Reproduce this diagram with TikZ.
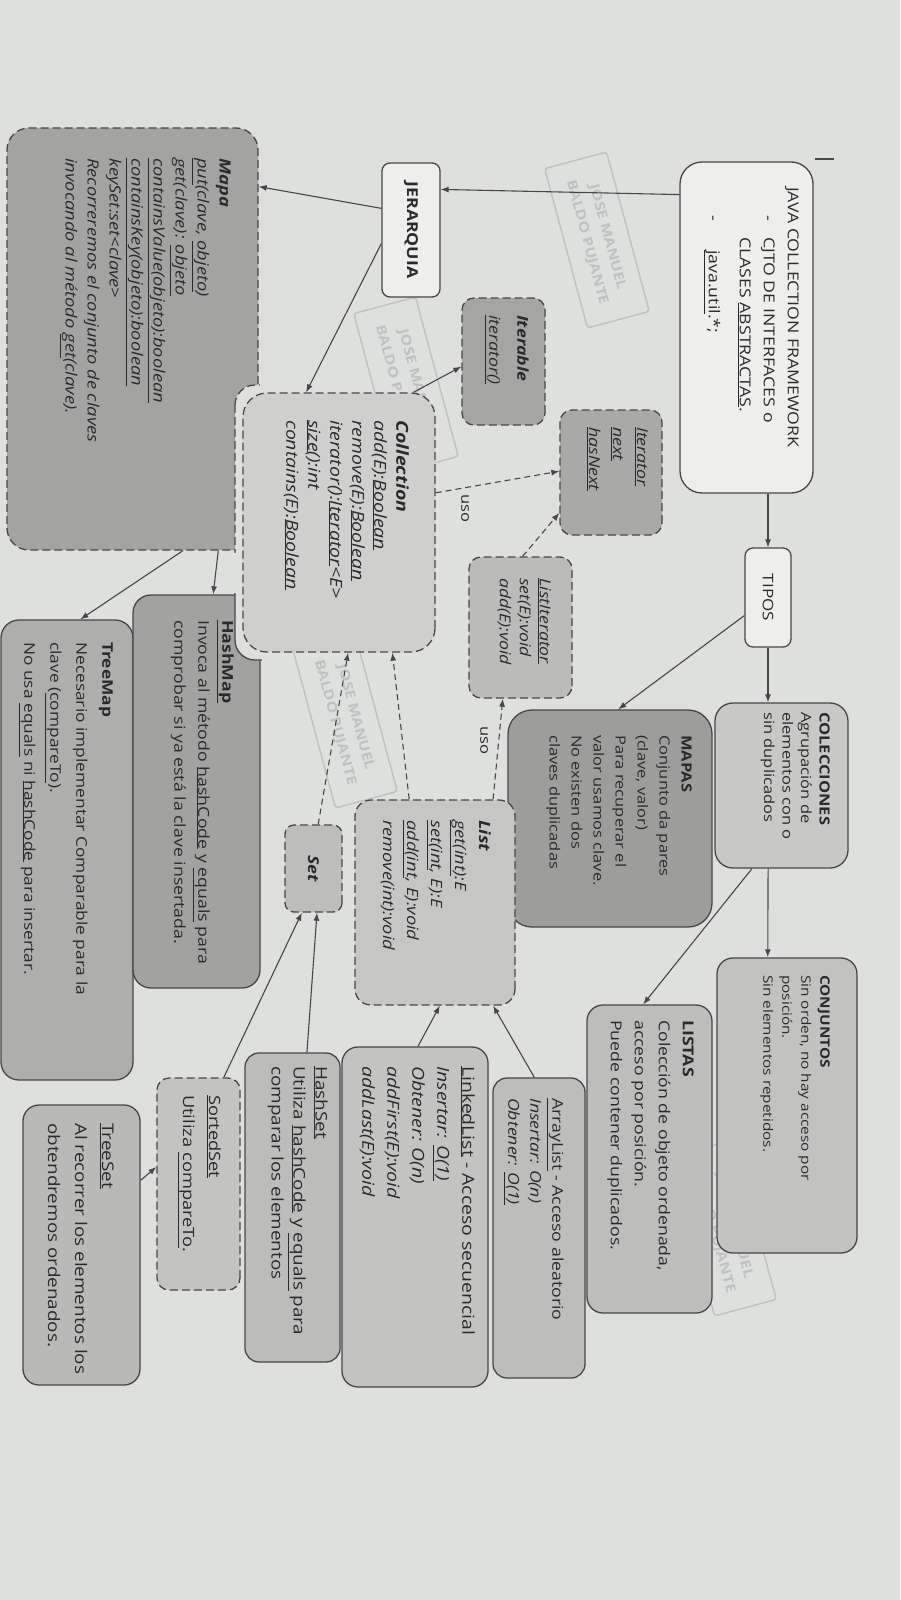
\documentclass[tikz,border=0pt]{standalone}
\usepackage{fontspec}
\setmainfont{Open Sans}[FakeStretch=1.18]
\usetikzlibrary{arrows.meta,calc}
\definecolor{paper}{HTML}{DEE0DD}
\definecolor{wbox}{HTML}{EEEFEC}
\definecolor{bord}{HTML}{474747}
\definecolor{ink}{HTML}{2A2A2A}
\definecolor{stampc}{HTML}{BEC2C0}
\definecolor{gcolec}{HTML}{C8C9C7}
\definecolor{gconj}{HTML}{C2C3C1}
\definecolor{glistas}{HTML}{BDBEBC}
\definecolor{gmapas}{HTML}{9D9E9C}
\definecolor{galist}{HTML}{BDBEBC}
\definecolor{gllist}{HTML}{C3C4C2}
\definecolor{ghset}{HTML}{BCBDBB}
\definecolor{ghmap}{HTML}{A2A3A1}
\definecolor{gtmap}{HTML}{AEAFAD}
\definecolor{gmapa}{HTML}{A3A4A2}
\definecolor{gcoll}{HTML}{CFD0CE}
\definecolor{gitbl}{HTML}{A5A6A4}
\definecolor{gitor}{HTML}{A9AAA8}
\definecolor{glitr}{HTML}{BBBCBA}
\definecolor{glist}{HTML}{C6C7C5}
\definecolor{gset}{HTML}{BDBEBC}
\definecolor{gsset}{HTML}{C3C4C2}
\definecolor{gtset}{HTML}{B9BAB8}
\newcommand\fs[2]{\fontsize{#1pt}{#2pt}\selectfont}
\newcommand\uln[1]{\underline{#1}}
\tikzset{
 bx/.style={rotate=-90, draw=bord, line width=1.3pt, rounded corners=14pt, inner sep=0pt, text=ink},
 dbx/.style={bx, dash pattern=on 8pt off 4pt},
 tx/.style={rotate=-90, anchor=north west, inner sep=0pt, align=left, text=ink},
 arr/.style={draw=bord, line width=1.1pt, -{Latex[length=8pt,width=6pt]}},
 darr/.style={arr, dash pattern=on 6pt off 4pt},
 stamp/.style={rotate=-75, draw=stampc, text=stampc, line width=1.4pt, rounded corners=3pt, font=\fs{13.5}{21}\bfseries, align=center, minimum width=165pt, minimum height=64pt, inner sep=2pt},
 lbl/.style={rotate=-90, text=ink, inner sep=1pt, font=\fs{14}{16}}
}
\begin{document}
\begin{tikzpicture}[x=1pt,y=-1pt]
\useasboundingbox (0,0) rectangle (900,1600);
\fill[paper] (0,0) rectangle (900,1600);
% watermark stamps
\node[stamp] (st1) at (597,240) {JOSE MANUEL\\BALDO PUJANTE};
\node[stamp] (st2) at (406,385) {JOSE MANUEL\\BALDO PUJANTE};
\node[stamp] (st3) at (345,720) {JOSE MANUEL\\BALDO PUJANTE};
\node[stamp] (st4) at (724,1228) {JOSE MANUEL\\BALDO PUJANTE};
\draw[bord, line width=1.6pt] (815,159) -- (834,159);

% top nodes
\node[bx, fill=wbox, rounded corners=22pt, minimum width=331pt, minimum height=133pt] (java) at (746.5,327.5) {};
\node[tx, font=\fs{15}{24}] (java-t) at (799,187) {JAVA COLLECTION FRAMEWORK\\\makebox[50pt][l]{\hspace{28pt}-}CJTO DE INTERFACES o\\\hspace*{50pt}CLASES \uln{ABSTRACTAS}.\\[7pt]\makebox[63pt][l]{\hspace{28pt}-}\uln{java.util}.*;};
\node[bx, fill=wbox, rounded corners=8pt, minimum width=99pt, minimum height=46pt, font=\fs{14.5}{17}] (tipos) at (768,597.5) {TIPOS};
\node[bx, fill=wbox, rounded corners=8pt, minimum width=134pt, minimum height=58pt, font=\fs{15}{18}\bfseries] (jer) at (411,230) {JERARQUIA};

% right column
\node[bx, fill=gcolec, rounded corners=18pt, minimum width=165pt, minimum height=133pt] (colec) at (781.5,785.5) {};
\node[tx, font=\fs{14}{18.5}] (colec-t) at (830,712) {\textbf{COLECCIONES}\\Agrupación de\\elementos con o\\sin duplicados};
\node[bx, fill=gmapas, rounded corners=24pt, minimum width=217pt, minimum height=204pt] (mapas) at (610,818.5) {};
\node[tx, font=\fs{14}{22}] (mapas-t) at (692,735) {\textbf{MAPAS}\\Conjunto da pares\\(clave, valor)\\Para recuperar el\\valor usamos clave.\\No existen dos\\claves duplicadas};
\node[bx, fill=gconj, rounded corners=16pt, minimum width=295pt, minimum height=140pt] (conj) at (787,1105.5) {};
\node[tx, font=\fs{13}{19}] (conj-t) at (830,975) {\textbf{CONJUNTOS}\\Sin orden, no hay acceso por\\posición.\\Sin elementos repetidos.};
\node[bx, fill=glistas, rounded corners=16pt, minimum width=308pt, minimum height=125pt] (listas) at (649.5,1159) {};
\node[tx, font=\fs{15}{24}] (listas-t) at (694,1020) {\textbf{LISTAS}\\Colección de objeto ordenada,\\acceso por posición.\\Puede contener duplicados.};
\node[bx, fill=galist, rounded corners=14pt, minimum width=300pt, minimum height=92pt] (alist) at (539,1228) {};
\node[tx, font=\fs{15}{22}] (alist-t) at (564,1098) {\uln{ArrayList} - Acceso aleatorio\\\textit{Insertar: O(n)}\\\textit{Obtener: \uln{O(1)}}};
\node[bx, fill=gllist, rounded corners=16pt, minimum width=340pt, minimum height=146pt] (llist) at (415,1217) {};
\node[tx, font=\fs{16.5}{25}] (llist-t) at (475,1066) {\uln{LinkedList} - Acceso secuencial\\\textit{Insertar: \uln{O(1)}}\\\textit{Obtener: O(n)}\\\textit{addFirst(E):void}\\\textit{addLast(E):void}};
\node[bx, fill=ghset, rounded corners=14pt, minimum width=309pt, minimum height=95pt] (hset) at (292.5,1207.5) {};
\node[tx, font=\fs{16}{22}] (hset-t) at (328,1066) {\uln{HashSet}\\Utiliza \uln{hashCode} y \uln{equals} para\\comparar los elementos};

% interfaces
\node[dbx, fill=gitbl, rounded corners=12pt, minimum width=127pt, minimum height=83pt] (itbl) at (503.5,361.5) {};
\node[tx, font=\fs{15}{28}\itshape] (itbl-t) at (529,315) {\textbf{Iterable}\\\uln{iterator()}};
\node[dbx, fill=gitor, rounded corners=12pt, minimum width=125pt, minimum height=102pt] (itor) at (611,472.5) {};
\node[tx, font=\fs{15}{24}\itshape] (itor-t) at (648,427) {\uln{Iterator}\\\uln{next}\\\uln{hasNext}};
\node[dbx, fill=glitr, rounded corners=12pt, minimum width=141pt, minimum height=103pt] (litr) at (520.5,627.5) {};
\node[tx, font=\fs{15}{20}\itshape] (litr-t) at (551,578) {\uln{ListIterator}\\set(E):void\\add(E):void};
\node[dbx, fill=glist, rounded corners=16pt, minimum width=205pt, minimum height=160pt] (list) at (435,902.5) {};
\node[tx, font=\fs{15.5}{24}\itshape] (list-t) at (491,820) {\textbf{List}\\\uln{get(int)}:E\\\uln{set(int}, E):E\\\uln{add(int}, E):void\\remove(int):void};
\node[dbx, fill=gset, rounded corners=9pt, minimum width=87pt, minimum height=57pt, font=\fs{15}{18}\bfseries\itshape] (set) at (313.5,868.5) {Set};

% left column
\node[dbx, fill=gmapa, rounded corners=22pt, minimum width=422pt, minimum height=251pt] (mapa) at (132.5,339) {};
\node[tx, font=\fs{15.5}{22}\itshape] (mapa-t) at (231,158) {\textbf{Mapa}\\\uln{put}(clave, \uln{objeto})\\get(clave): \uln{objeto}\\\uln{containsValue(objeto):boolean}\\\uln{containsKey(objeto):boolean}\\keySet:set<clave>\\Recorreremos el conjunto de claves\\invocando al método \uln{get}(clave).};
\node[bx, fill=gtmap, rounded corners=18pt, minimum width=460pt, minimum height=132pt] (tmap) at (67,850) {};
\node[tx, font=\fs{14.7}{26}] (tmap-t) at (113,642) {\textbf{TreeMap}\\Necesario implementar Comparable para la\\clave (\uln{compareTo}).\\No usa \uln{equals} ni \uln{hashCode} para insertar.};
\node[bx, fill=ghmap, rounded corners=18pt, minimum width=393pt, minimum height=127pt] (hmap) at (196.5,791.5) {};
\node[tx, font=\fs{15}{24}] (hmap-t) at (234,620) {\textbf{\uln{HashMap}}\\Invoca al método \uln{hashCode} y \uln{equals} para\\comprobar si ya está la clave insertada.};
% notches left by the Collection box
\begin{scope}
\clip (5,126) rectangle (259.8,552);
\draw[draw=bord, line width=1.3pt, dash pattern=on 8pt off 4pt, fill=paper, rounded corners=20pt] (235,385) rectangle (443,660);
\end{scope}
\begin{scope}
\clip (132,593) rectangle (261.8,990);
\draw[draw=bord, line width=1.3pt, fill=paper, rounded corners=20pt] (235,385) rectangle (443,660);
\end{scope}
\node[dbx, fill=gcoll, rounded corners=24pt, minimum width=259pt, minimum height=192pt] (coll) at (339,522.5) {};
\node[tx, font=\fs{16.5}{22}\itshape] (coll-t) at (409,420) {\textbf{Collection}\\add(E):\uln{Boolean}\\remove(E):\uln{Boolean}\\iterator():\uln{Iterator}<E>\\\uln{size}():int\\contains(E):\uln{Boolean}};
\node[dbx, fill=gsset, rounded corners=12pt, minimum width=212pt, minimum height=83pt] (sset) at (198.5,1184) {};
\node[tx, font=\fs{15.5}{26}] (sset-t) at (221,1095) {\uln{SortedSet}\\Utiliza \uln{compareTo}.};
\node[bx, fill=gtset, rounded corners=16pt, minimum width=280pt, minimum height=117pt] (tset) at (81.5,1245) {};
\node[tx, font=\fs{16}{27}] (tset-t) at (114,1123) {\uln{TreeSet}\\Al recorrer los elementos los\\obtendremos ordenados.};

% connectors
\draw[arr] ($(java.south west)!0.10!(java.south east)$) -- ($(jer.north west)!0.2!(jer.north east)$);
\draw[arr] ($(jer.south west)!0.34!(jer.south east)$) -- ($(mapa.north west)!0.14!(mapa.north east)$);
\draw[arr] ($(jer.south west)!0.6!(jer.south east)$) -- ($(coll.south west)!0.33!(coll.north west)$);
\draw[arr] (tipos.west |- java.east) -- (tipos.west);
\draw[arr] (tipos.east) -- (tipos.east |- colec.west);
\draw[arr] ($(tipos.south west)!0.68!(tipos.south east)$) -- ($(mapas.south west)!0.54!(mapas.north west)$);
\draw[arr] ($(colec.south east)!0.4!(colec.north east)$) -- ($(conj.south west)!0.364!(conj.north west)$);
\draw[arr] ($(colec.south east)!0.28!(colec.north east)$) -- ($(listas.south west)!0.45!(listas.north west)$);
\draw[arr] ($(alist.south west)!0.45!(alist.north west)$) -- ($(list.south east)!0.86!(list.north east)$);
\draw[arr] ($(llist.south west)!0.52!(llist.north west)$) -- ($(list.south east)!0.53!(list.north east)$);
\draw[arr] ($(hset.south west)!0.65!(hset.north west)$) -- ($(set.south east)!0.56!(set.north east)$);
\draw[arr] ($(sset.south west)!0.8!(sset.north west)$) -- ($(set.south east)!0.3!(set.north east)$);
\draw[arr] ($(tset.north west)!0.27!(tset.north east)$) -- ($(sset.south west)!0.42!(sset.south east)$);
\draw[arr] ($(mapa.south east)!0.84!(mapa.north east)$) -- ($(hmap.south west)!0.63!(hmap.north west)$);
\draw[arr] ($(mapa.south east)!0.70!(mapa.north east)$) -- ($(tmap.south west)!0.6!(tmap.north west)$);
\draw[arr] ($(coll.south west)!0.885!(coll.north west)$) -- ($(itbl.south west)!0.54!(itbl.south east)$);
\draw[darr] ($(coll.north west)!0.386!(coll.north east)$) -- ($(itor.south west)!0.49!(itor.south east)$);
\draw[darr] ($(litr.south west)!0.52!(litr.north west)$) -- ($(itor.south west)!0.82!(itor.south east)$);
\draw[darr] ($(list.south west)!0.86!(list.north west)$) -- ($(litr.south east)!0.33!(litr.north east)$);
\draw[darr] ($(list.south west)!0.34!(list.north west)$) -- ($(coll.south east)!0.776!(coll.north east)$);
\draw[darr] ($(set.south west)!0.58!(set.north west)$) -- ($(coll.south east)!0.547!(coll.north east)$);
\node[lbl] (uso1) at (465,508) {uso};
\node[lbl] (uso2) at (484,740) {uso};
\end{tikzpicture}
\end{document}
